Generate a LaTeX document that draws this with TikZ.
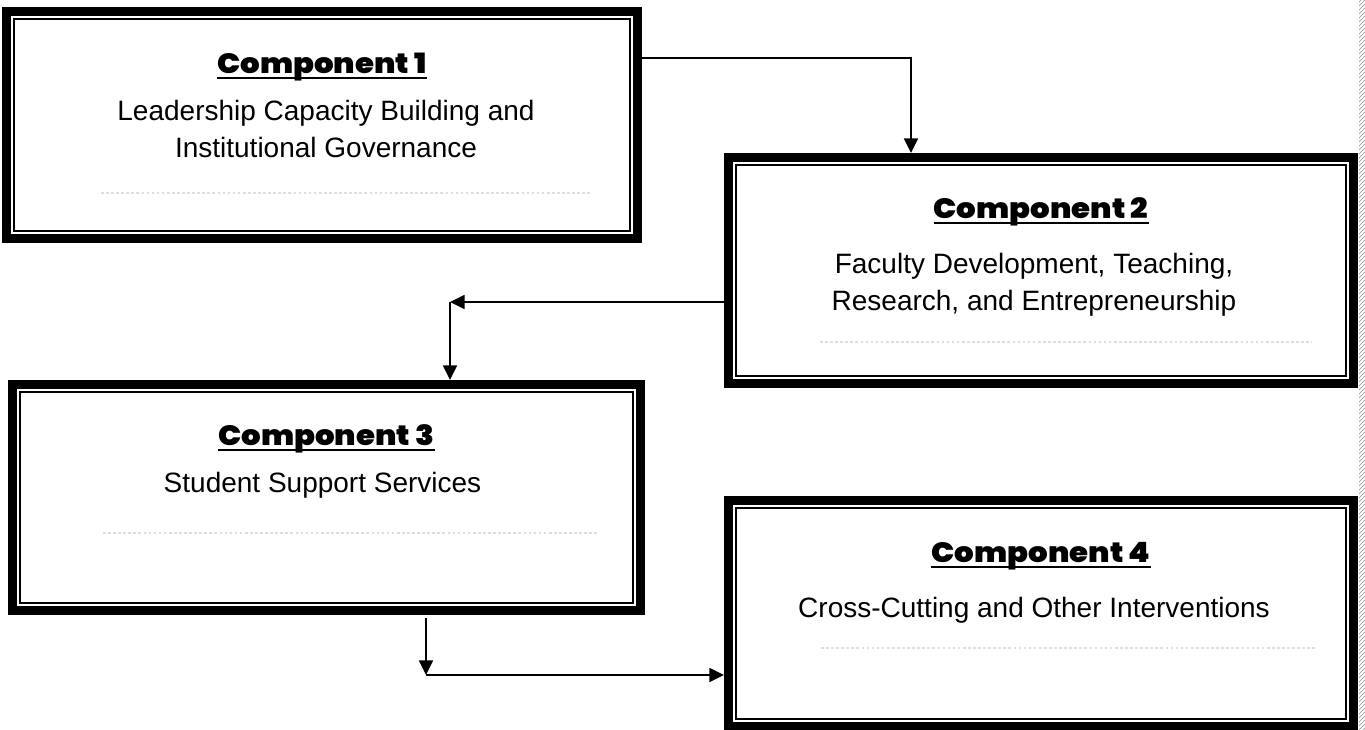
\documentclass[tikz,border=0pt]{standalone}
\usepackage{fontspec}
\setmainfont{Liberation Sans}
\newfontfamily\headfont{Poppins Black}[FakeStretch=1.1]
\usetikzlibrary{arrows.meta, fit, patterns}

\begin{document}
\begin{tikzpicture}[x=0.75pt, y=-0.75pt,
  cbox/.style = {draw, line width=6.75pt, inner sep=0pt},
  cframe/.style = {line width=1.2pt},
  chead/.style = {inner sep=0pt, anchor=base, font=\headfont\fontsize{21}{25}\selectfont},
  ctext/.style = {inner sep=0pt, anchor=base, align=center, font=\fontsize{21}{27.75}\selectfont},
  uline/.style = {line width=1.5pt},
  rule/.style = {draw=black!13, line width=1.2pt, dash pattern=on 2pt off 1.8pt},
  link/.style = {line width=1.2pt, -{Triangle[length=11pt, width=10.5pt]}}]
\useasboundingbox (0,0) rectangle (1365,729);

% the four component boxes
\node[cbox, fit={(6.5,11.5) (637.5,238.5)}] (c1) {};
\node[cbox, fit={(728.5,157.5) (1353.5,383.5)}] (c2) {};
\node[cbox, fit={(12.5,384.5) (640.5,610.5)}] (c3) {};
\node[cbox, fit={(728.5,500.5) (1353.5,726.5)}] (c4) {};
\draw[cframe] ([shift={(12,12)}]c1.north west) rectangle ([shift={(-12,-12)}]c1.south east);
\draw[cframe] ([shift={(12,12)}]c2.north west) rectangle ([shift={(-12,-12)}]c2.south east);
\draw[cframe] ([shift={(12,12)}]c3.north west) rectangle ([shift={(-12,-12)}]c3.south east);
\draw[cframe] ([shift={(12,12)}]c4.north west) rectangle ([shift={(-12,-12)}]c4.south east);

% titles and texts
\node[chead] (t1) at ([shift={(0,66)}]c1.north) {Component 1};
\node[chead] (t2) at ([shift={(0,65)}]c2.north) {Component 2};
\node[chead] (t3) at ([shift={(0,65)}]c3.north) {Component 3};
\node[chead] (t4) at ([shift={(0,66)}]c4.north) {Component 4};
\draw[uline] ([shift={(0,4.5)}]t1.base west) -- ([shift={(0,4.5)}]t1.base east);
\draw[uline] ([shift={(0,4.5)}]t2.base west) -- ([shift={(0,4.5)}]t2.base east);
\draw[uline] ([shift={(0,4.5)}]t3.base west) -- ([shift={(0,4.5)}]t3.base east);
\draw[uline] ([shift={(0,4.5)}]t4.base west) -- ([shift={(0,4.5)}]t4.base east);
\node[ctext] (d1) at ([shift={(4,150)}]c1.north) {Leadership Capacity Building and\\Institutional Governance};
\node[ctext] (d2) at ([shift={(-7,157)}]c2.north) {Faculty Development, Teaching,\\Research, and Entrepreneurship};
\node[ctext] (d3) at ([shift={(-4,112)}]c3.north) {Student Support Services};
\node[ctext] (d4) at ([shift={(-7,121)}]c4.north) {Cross-Cutting and Other Interventions};
\draw[rule] ([shift={(99,186)}]c1.north west) -- ++(490,0);
\draw[rule] ([shift={(96,189)}]c2.north west) -- ++(492,0);
\draw[rule] ([shift={(95,153)}]c3.north west) -- ++(495,0);
\draw[rule] ([shift={(97,152)}]c4.north west) -- ++(495,0);

% connectors
\coordinate (k2) at (450,302);
\coordinate (k3) at (426,675);
\draw[link] ([shift={(0,51)}]c1.north east) -| ([shift={(-130,0)}]c2.north);
\draw[link] ([shift={(0,149)}]c2.north west) -- (k2);
\draw[link] (k2) -- (k2 |- c3.north);
\draw[link, shorten <=2.5pt] (c3.south -| k3) -- (k3);
\draw[link] (k3) -- (k3 -| c4.west);

% page edge
\fill[pattern=north east lines, pattern color=black!45] (1359,0) rectangle (1365,729);
\end{tikzpicture}
\end{document}
